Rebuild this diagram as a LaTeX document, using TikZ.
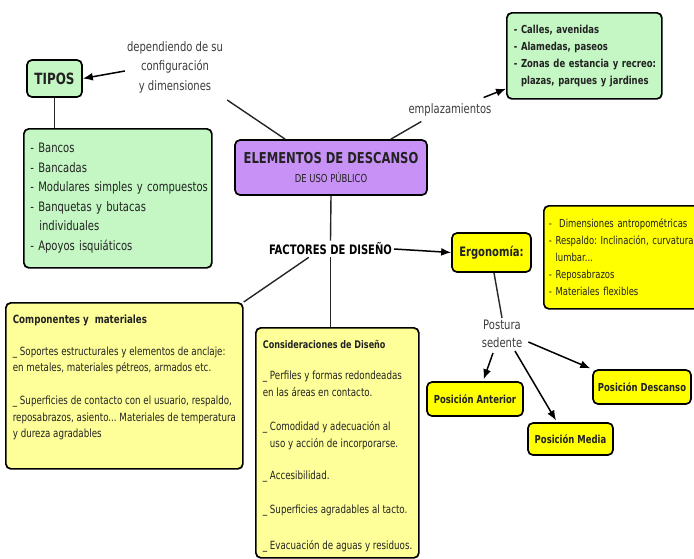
\documentclass[tikz,border=0pt]{standalone}
\usepackage{fontspec}
\setmainfont{DejaVu Sans}[FakeStretch=0.77]
\frenchspacing
\usetikzlibrary{arrows.meta}
\definecolor{boxgreen}{RGB}{196,247,196}
\definecolor{boxpurple}{RGB}{200,145,245}
\definecolor{boxyellow}{RGB}{255,255,0}
\definecolor{paleyellow}{RGB}{255,255,153}
\definecolor{txt}{RGB}{34,34,34}
\definecolor{lbl}{RGB}{60,60,60}
\begin{document}
\frenchspacing
\begin{tikzpicture}[x=1pt,y=-1pt,
  box/.style={draw=black, line width=1.7pt, rounded corners=5pt, text=txt},
  lbl/.style={text=lbl, inner sep=2pt, align=center, font={\fontsize{13}{19.5}\selectfont}},
  conn/.style={draw=black!85, line width=1.4pt},
  arr/.style={draw=black, line width=1.5pt, -{Latex[length=10pt,width=8pt]}}
]
\useasboundingbox[fill=white] (0,0) rectangle (694,558);

% boxes
\node[box, fill=boxgreen, minimum width=55pt, minimum height=37pt, font={\fontsize{15.5}{18}\selectfont\bfseries}] (tipos) at (54.5,78.5) {TIPOS};

\node[box, fill=boxgreen, anchor=north west, minimum width=188pt, minimum height=139pt, text width=179pt, inner xsep=4.5pt, align=left, font={\fontsize{13}{19.5}\selectfont}] (tlist) at (23,128)
{\hspace*{2pt}- Bancos\\\hspace*{2pt}- Bancadas\\\hspace*{2pt}\mbox{- Modulares simples y compuestos}\\\hspace*{2pt}- Banquetas y butacas\\\hspace*{11pt}individuales\\\hspace*{2pt}- Apoyos isquiáticos};

\node[box, fill=boxgreen, anchor=north west, minimum width=155pt, minimum height=86pt, text width=145pt, inner xsep=5pt, align=left, font={\fontsize{11}{17}\selectfont\bfseries}] (calles) at (506,12)
{\hspace*{2pt}- Calles, avenidas\\\hspace*{2pt}- Alamedas, paseos\\\hspace*{2pt}\mbox{- Zonas de estancia y recreo:}\\\hspace*{2pt}\phantom{- }plazas, parques y jardines};

\node[box, fill=boxpurple, minimum width=192pt, minimum height=55pt, align=center, font={\fontsize{15}{18}\selectfont}] (elem) at (331,167.5)
{\textbf{ELEMENTOS DE DESCANSO}\\[1.5pt]{\fontsize{11}{13}\selectfont DE USO PÚBLICO}};

\node[box, fill=boxyellow, minimum width=79pt, minimum height=39pt, font={\fontsize{13}{16}\selectfont\bfseries}] (ergo) at (491.5,252.5) {Ergonomía:};

\node[box, fill=boxyellow, anchor=north west, minimum width=200pt, minimum height=103pt, text width=190pt, inner xsep=5pt, align=left, font={\fontsize{11}{17}\selectfont}] (ergd) at (543,205)
{-\ \ Dimensiones antropométricas\\- Respaldo: Inclinación, curvatura\\\phantom{- }lumbar...\\- Reposabrazos\\- Materiales flexibles};

\node[box, fill=boxyellow, minimum width=96pt, minimum height=34pt, font={\fontsize{11}{13}\selectfont\bfseries}] (ant) at (475,399) {Posición Anterior};
\node[box, fill=boxyellow, minimum width=85pt, minimum height=32pt, font={\fontsize{11}{13}\selectfont\bfseries}] (med) at (570.5,439) {Posición Media};
\node[box, fill=boxyellow, minimum width=98pt, minimum height=34pt, font={\fontsize{11}{13}\selectfont\bfseries}] (desc) at (642,387) {Posición Descanso};

\node[box, fill=paleyellow, anchor=north west, inner xsep=7pt, inner ysep=0pt, font={\fontsize{11.3}{16.5}\selectfont}] (comp) at (5,302)
{\begin{minipage}[t][166pt][t]{223pt}\raggedright\vspace*{12pt}%
\textbf{Componentes y \ materiales}\\[15.5pt]
\mbox{\_ Soportes estructurales y elementos de anclaje:}\\
\mbox{en metales, materiales pétreos, armados etc.}\\[16.5pt]
\mbox{\_ Superficies de contacto con el usuario, respaldo,}\\
\mbox{reposabrazos, asiento... Materiales de temperatura}\\
y dureza agradables\end{minipage}};

\node[box, fill=paleyellow, anchor=north west, inner xsep=7pt, inner ysep=0pt, font={\fontsize{11.3}{17}\selectfont}] (cons) at (255,327)
{\begin{minipage}[t][230pt][t]{149pt}\raggedright\vspace*{12pt}%
{\fontsize{10.5}{17}\selectfont\bfseries Consideraciones de Diseño}\\[14pt]
\mbox{\_ Perfiles y formas redondeadas}\\
\mbox{en las áreas en contacto.}\\[17pt]
\mbox{\_ Comodidad y adecuación al}\\
\mbox{\phantom{\_ }uso y acción de incorporarse.}\\[15pt]
\_ Accesibilidad.\\[17pt]
\mbox{\_ Superficies agradables al tacto.}\\[19pt]
\mbox{\_ Evacuación de aguas y residuos.}\end{minipage}};

% labels
\node[lbl] (dep) at (175,67) {dependiendo de su\\configuración\\y dimensiones};
\node[lbl] (emp) at (450,110) {emplazamientos};
\node[inner sep=2pt, text=black, font={\fontsize{13}{16}\selectfont\bfseries}] (fact) at (330.5,249) {FACTORES DE DISEÑO};
\node[lbl, font={\fontsize{13}{18}\selectfont}] (post) at (502,334) {Postura\\sedente};

% connectors
\draw[arr] ([yshift=-4pt]dep.west) -- (tipos.east);
\draw[conn] (tipos.south) -- (tipos.south |- tlist.north);
\draw[conn] ([xshift=2pt,yshift=-5pt]dep.south east) -- ([xshift=51pt]elem.north west);
\draw[conn] ([xshift=-37pt]elem.north east) -- ([xshift=15pt,yshift=-3pt]emp.south west);
\draw[arr] ([xshift=-10pt,yshift=4pt]emp.north east) -- ([yshift=11pt]calles.south west);
\draw[conn] (elem.south) -- (fact.north);
\draw[arr] (fact.east) -- (ergo.west);
\draw[conn] ([xshift=42pt]fact.south west) -- (comp.north east);
\draw[conn] (fact.south) -- (fact.south |- cons.north);
\draw[conn] ([xshift=2.5pt]ergo.south) -- (post.north);
\draw[arr, shorten >=2pt] ([xshift=-9pt,yshift=-3pt]post.south) -- ([xshift=8pt]ant.north);
\draw[arr, shorten >=2pt] ([xshift=13pt,yshift=-1pt]post.south) -- ([xshift=-13.5pt]med.north);
\draw[arr, shorten >=2pt] ([xshift=4pt,yshift=-8pt]post.east) -- (desc.north west);
\end{tikzpicture}
\end{document}
